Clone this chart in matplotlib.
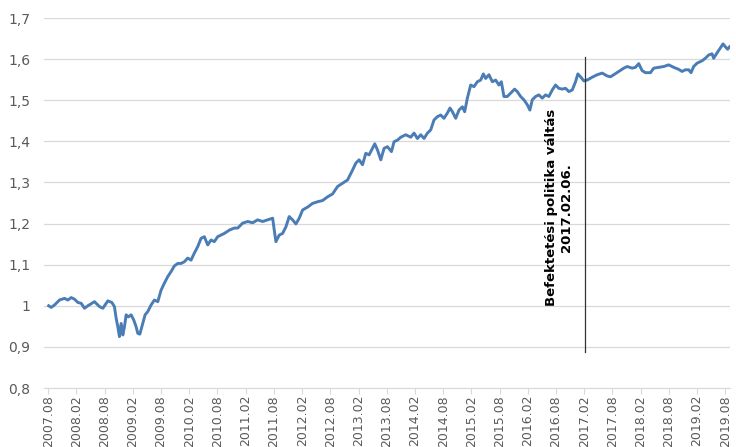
import numpy as np
from matplotlib import pyplot as plt

# months since 2007.08 and index value
months = [0.1, 0.64, 1.34, 2.40, 3.46, 4.18, 4.89, 5.59, 6.31, 7.01, 7.71, 8.43, 9.83,
          10.90, 11.62, 12.68, 13.53, 14.08, 14.44, 14.80, 15.14, 15.51, 15.87, 16.21,
          16.57, 17.06, 17.63, 18.20, 18.69, 19.05, 19.48, 20.11, 20.60, 21.18, 21.88,
          22.58, 23.30, 24.00, 24.70, 25.42, 26.12, 26.83, 27.55, 28.25, 28.95, 29.67,
          30.37, 31.07, 31.80, 32.50, 33.20, 33.92, 34.62, 35.32, 36.04, 36.75, 37.45,
          38.51, 39.57, 40.29, 41.35, 42.42, 43.48, 44.54, 45.60, 46.66, 47.73, 48.07,
          48.43, 49.13, 49.85, 50.55, 51.25, 51.97, 52.68, 53.38, 54.10, 55.16, 56.22,
          57.28, 58.35, 59.41, 60.47, 61.53, 62.59, 63.66, 64.72, 65.42, 66.12, 66.84,
          67.54, 68.24, 68.97, 69.45, 70.03, 70.73, 71.43, 72.15, 73.00, 73.55, 74.28,
          74.98, 76.04, 77.10, 77.80, 78.52, 79.23, 79.93, 80.65, 81.35, 82.05, 82.77,
          83.47, 84.17, 84.90, 85.45, 85.96, 86.66, 87.36, 88.08, 88.57, 89.14, 89.85,
          90.55, 91.27, 91.97, 92.54, 93.03, 93.73, 94.45, 95.16, 95.86, 96.37, 96.92,
          97.64, 98.34, 99.19, 99.76, 100.47, 101.17, 101.89, 102.44, 102.95, 103.65,
          104.35, 105.07, 105.78, 106.48, 107.20, 107.90, 108.60, 109.32, 110.02, 110.73,
          111.45, 112.15, 112.64, 113.21, 113.91, 114.63, 115.70, 116.76, 117.82, 118.88,
          119.58, 120.28, 121.35, 122.41, 123.13, 124.19, 124.89, 125.59, 126.31, 127.02,
          128.08, 128.78, 129.84, 130.90, 131.96, 133.03, 134.09, 134.81, 135.51, 136.21,
          136.72, 137.27, 137.99, 139.06, 139.76, 140.46, 141.18, 141.52, 142.24, 142.94,
          143.52, 144.01, 144.50, 144.92]
values = [1.000, 0.996, 1.002, 1.014, 1.018, 1.014, 1.020, 1.016, 1.008, 1.006, 0.994, 1.000, 1.010,
          0.998, 0.994, 1.012, 1.008, 0.998, 0.970, 0.949, 0.925, 0.957, 0.929, 0.949,
          0.978, 0.973, 0.978, 0.965, 0.949, 0.933, 0.931, 0.957, 0.978, 0.986, 1.002,
          1.014, 1.010, 1.038, 1.055, 1.071, 1.083, 1.097, 1.103, 1.103, 1.107, 1.116,
          1.111, 1.128, 1.144, 1.164, 1.168, 1.148, 1.160, 1.156, 1.168, 1.172, 1.176,
          1.184, 1.189, 1.189, 1.201, 1.205, 1.202, 1.209, 1.205, 1.209, 1.213, 1.184,
          1.156, 1.172, 1.176, 1.192, 1.217, 1.209, 1.199, 1.213, 1.233, 1.240, 1.249,
          1.253, 1.256, 1.265, 1.272, 1.290, 1.298, 1.306, 1.330, 1.347, 1.355, 1.343,
          1.371, 1.367, 1.383, 1.394, 1.379, 1.355, 1.383, 1.387, 1.375, 1.399, 1.403,
          1.410, 1.416, 1.410, 1.420, 1.407, 1.416, 1.407, 1.420, 1.428, 1.452, 1.460,
          1.464, 1.456, 1.469, 1.481, 1.472, 1.456, 1.476, 1.484, 1.472, 1.505, 1.537,
          1.533, 1.545, 1.549, 1.564, 1.553, 1.562, 1.545, 1.549, 1.537, 1.545, 1.509,
          1.509, 1.517, 1.527, 1.521, 1.509, 1.501, 1.489, 1.476, 1.501, 1.509,
          1.513, 1.505, 1.513, 1.509, 1.525, 1.537, 1.529, 1.527, 1.529, 1.521,
          1.525, 1.545, 1.564, 1.557, 1.547, 1.549, 1.556, 1.562, 1.566, 1.559,
          1.557, 1.562, 1.570, 1.578, 1.582, 1.578, 1.580, 1.589, 1.572, 1.567,
          1.567, 1.578, 1.580, 1.582, 1.586, 1.580, 1.575, 1.570, 1.574, 1.574,
          1.567, 1.582, 1.590, 1.596, 1.602, 1.610, 1.613, 1.602, 1.615, 1.627,
          1.637, 1.630, 1.624, 1.630]

tick_labels = []
for y in range(2007, 2020):
    if y > 2007:
        tick_labels.append(f"{y}.02")
    tick_labels.append(f"{y}.08")
tick_pos = [6 * i for i in range(len(tick_labels))]

y_ticks = [0.8, 0.9, 1.0, 1.1, 1.2, 1.3, 1.4, 1.5, 1.6, 1.7]
y_labels = ["0,8", "0,9", "1", "1,1", "1,2", "1,3", "1,4", "1,5", "1,6", "1,7"]

switch_month = 114.2  # 2017.02.06.

fig = plt.figure(figsize=(7.36, 4.47), dpi=100)
ax = fig.add_axes([44 / 736, 1 - 388 / 447, 686 / 736, 370 / 447])

ax.plot(months, values, color="#4a7cb6", lw=2.1, zorder=3, solid_joinstyle="round")
ax.plot([switch_month, switch_month], [0.888, 1.605], color="#333333", lw=0.9, zorder=4)
ax.text(108.6, 1.24, "Befektetési politika váltás\n2017.02.06.", rotation=90,
        ha="center", va="center", fontsize=9.5, fontweight="bold", color="black",
        linespacing=1.15)

ax.set_xlim(-0.9, 145)
ax.set_ylim(0.8, 1.7)
ax.set_yticks(y_ticks)
ax.set_yticklabels(y_labels)
ax.set_xticks(tick_pos)
ax.set_xticklabels(tick_labels, rotation=90)
ax.grid(axis="y", color="#d9d9d9", lw=0.9)
ax.set_axisbelow(True)
for s in ["left", "right", "top"]:
    ax.spines[s].set_visible(False)
ax.spines["bottom"].set_color("#d9d9d9")
ax.tick_params(axis="y", length=0, pad=10, labelsize=10, labelcolor="#595959")
ax.tick_params(axis="x", length=4, color="#d9d9d9", pad=1, labelsize=9, labelcolor="#595959")

plt.savefig("out.png", dpi=100)
